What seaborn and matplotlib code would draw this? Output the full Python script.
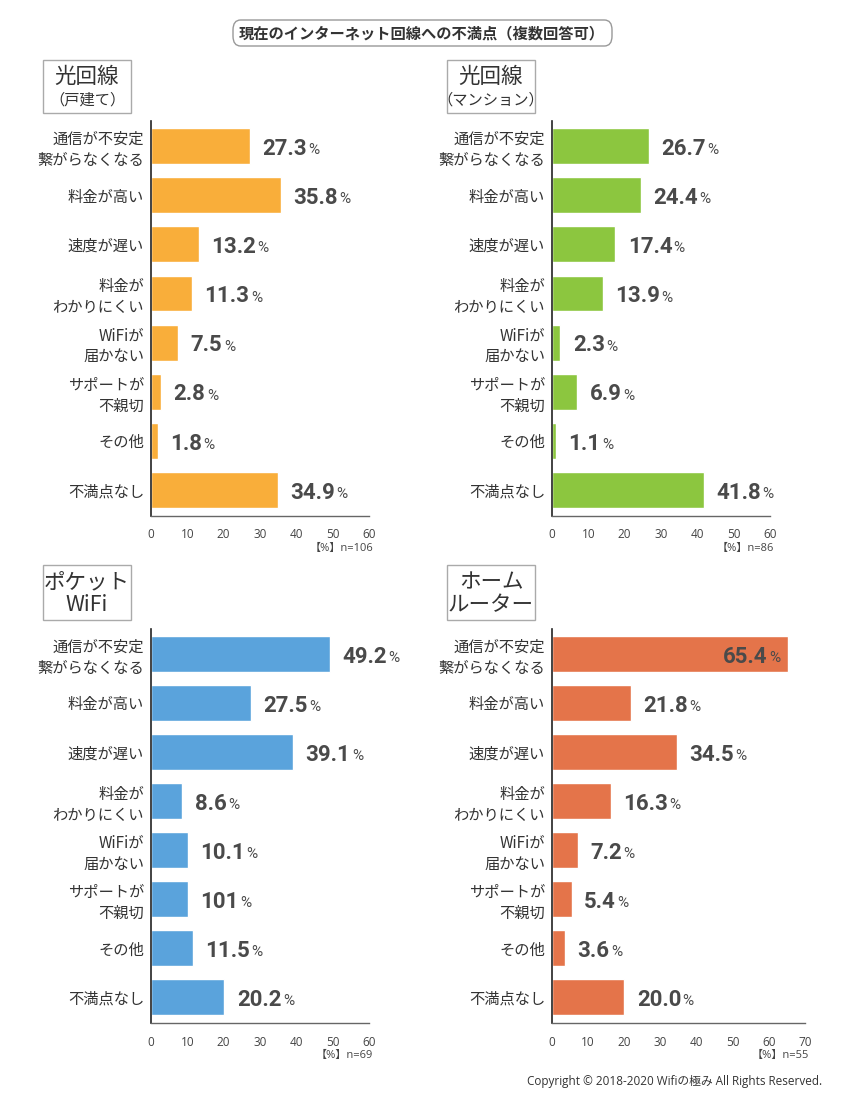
import numpy as np
import pandas as pd
import seaborn as sns
import matplotlib.pyplot as plt
from matplotlib.patches import Rectangle, FancyBboxPatch

# ---------------------------
# Data
# ---------------------------

categories = [
    "通信が不安定\n繋がらなくなる",
    "料金が高い",
    "速度が遅い",
    "料金が\nわかりにくい",
    "WiFiが\n届かない",
    "サポートが\n不親切",
    "その他",
    "不満点なし",
]

fiber_house = [27.3, 35.8, 13.2, 11.3, 7.5, 2.8, 1.8, 34.9]
fiber_mansion = [26.7, 24.4, 17.4, 13.9, 2.3, 6.9, 1.1, 41.8]
pocket_wifi = [49.2, 27.5, 39.1, 8.6, 10.1, 10.1, 11.5, 20.2]
home_router = [65.4, 21.8, 34.5, 16.3, 7.2, 5.4, 3.6, 20.0]

# label text as printed on the chart (one label reads "101")
pocket_wifi_labels = ["49.2", "27.5", "39.1", "8.6", "10.1", "101", "11.5", "20.2"]

panel_titles = [("光回線", "（戸建て）"), ("光回線", "（マンション）"),
                ("ポケット", "WiFi"), ("ホーム", "ルーター")]
sample_sizes = [106, 86, 69, 55]
x_max = [60, 60, 60, 70]
colors = ["#F9AE3A", "#8CC63F", "#5AA3DC", "#E4744A"]

title = "現在のインターネット回線への不満点（複数回答可）"
copyright_text = "Copyright © 2018-2020 Wifiの極み All Rights Reserved."

# ---------------------------
# Style
# ---------------------------

sns.set_style("white")
plt.rcParams["font.family"] = ["Noto Sans CJK JP", "DejaVu Sans"]

W, H = 846, 1103
fig = plt.figure(figsize=(W / 100, H / 100), dpi=100)


def fx(px):
    return px / W


def fy(py):
    return 1 - py / H


# axes rectangles in pixels: left, top, right, bottom
axes_px = [
    (151, 121, 369, 516),
    (552, 121, 770, 516),
    (151, 629, 369, 1023),
    (552, 629, 805, 1023),
]
box_px = [
    (43, 60, 131, 113),
    (447, 60, 535, 113),
    (43, 565, 131, 620),
    (447, 565, 535, 620),
]

all_values = [fiber_house, fiber_mansion, pocket_wifi, home_router]
all_labels = [
    [f"{v:.1f}" for v in fiber_house],
    [f"{v:.1f}" for v in fiber_mansion],
    pocket_wifi_labels,
    [f"{v:.1f}" for v in home_router],
]

val_font = ["Roboto", "DejaVu Sans"]
num_color = "#4a4a4a"

for i in range(4):
    l, t, r, b = axes_px[i]
    ax = fig.add_axes([fx(l), fy(b), fx(r - l), (b - t) / H])

    df = pd.DataFrame({"category": categories, "value": all_values[i]})
    sns.barplot(data=df, y="category", x="value", orient="h",
                color=colors[i], saturation=1, width=0.73, ax=ax)

    ax.set_xlim(0, x_max[i])
    ax.set_ylim(7.53, -0.51)
    ax.set_xticks(range(0, x_max[i] + 1, 10))
    ax.set_xlabel("")
    ax.set_ylabel("")
    ax.tick_params(axis="x", direction="in", length=6, width=1, color="#555555",
                   labelsize=8.5, labelcolor="#444444", pad=9)
    ax.tick_params(axis="y", length=0, labelsize=11, labelcolor="#333333", pad=5)
    for lab in ax.get_xticklabels():
        lab.set_fontfamily(["Open Sans", "DejaVu Sans"])
    for lab in ax.get_yticklabels():
        lab.set_horizontalalignment("right")
        lab.set_multialignment("right")
        lab.set_linespacing(1.3)

    for s in ["top", "right"]:
        ax.spines[s].set_visible(False)
    ax.spines["left"].set_color("#222222")
    ax.spines["left"].set_linewidth(1.2)
    ax.spines["bottom"].set_color("#666666")
    ax.spines["bottom"].set_linewidth(1)

    # value labels
    fig.canvas.draw()
    renderer = fig.canvas.get_renderer()
    for j, (v, txt) in enumerate(zip(all_values[i], all_labels[i])):
        inside = v > 0.85 * x_max[i]
        if inside:
            pct = ax.annotate("%", xy=(v, j), xytext=(-6, -3), textcoords="offset points",
                              ha="right", va="center", fontsize=11, color=num_color,
                              family=val_font, annotation_clip=False)
            bb = pct.get_window_extent(renderer)
            x_data = ax.transData.inverted().transform((bb.x0, 0))[0]
            ax.annotate(txt, xy=(x_data, j), xytext=(-1, -2), textcoords="offset points",
                        ha="right", va="center", fontsize=16, fontweight="bold",
                        color=num_color, family=val_font, annotation_clip=False)
        else:
            num = ax.annotate(txt, xy=(v, j), xytext=(9, -2), textcoords="offset points",
                              ha="left", va="center", fontsize=16, fontweight="bold",
                              color=num_color, family=val_font, annotation_clip=False)
            bb = num.get_window_extent(renderer)
            x_data = ax.transData.inverted().transform((bb.x1, 0))[0]
            ax.annotate("%", xy=(x_data, j), xytext=(1, -3), textcoords="offset points",
                        ha="left", va="center", fontsize=11, color=num_color,
                        family=val_font, annotation_clip=False)

    # sample size note
    fig.text(fx(r + 4), fy(b + 32), f"【%】n={sample_sizes[i]}", ha="right", va="center",
             fontsize=8, color="#444444", family=["Open Sans", "Noto Sans CJK JP"])

    # panel title box
    bx0, by0, bx1, by1 = box_px[i]
    fig.patches.append(Rectangle((fx(bx0), fy(by1)), fx(bx1 - bx0), (by1 - by0) / H,
                                 transform=fig.transFigure, facecolor="white",
                                 edgecolor="#aaaaaa", linewidth=1))
    line1, line2 = panel_titles[i]
    cx = fx((bx0 + bx1) / 2)
    size2 = 11 if i < 2 else 15.5
    fig.text(cx, fy(by0 + 17), line1, ha="center", va="center", fontsize=15.5, color="#333333")
    fig.text(cx, fy(by0 + 40), line2, ha="center", va="center", fontsize=size2, color="#333333")

# ---------------------------
# Title & footer
# ---------------------------

fig.patches.append(FancyBboxPatch((fx(233), fy(46)), fx(612 - 233), 26 / H,
                                  boxstyle="round,pad=0,rounding_size=0.009",
                                  transform=fig.transFigure, facecolor="white",
                                  edgecolor="#999999", linewidth=1))
fig.text(fx(422), fy(33), title, ha="center", va="center", fontsize=11,
         fontweight="bold", color="#333333")

fig.text(fx(822), fy(1082), copyright_text, ha="right", va="center",
         fontsize=8.5, color="#333333", family=["Open Sans", "Noto Sans CJK JP"])

fig.savefig("out.png", dpi=100, facecolor="white")
